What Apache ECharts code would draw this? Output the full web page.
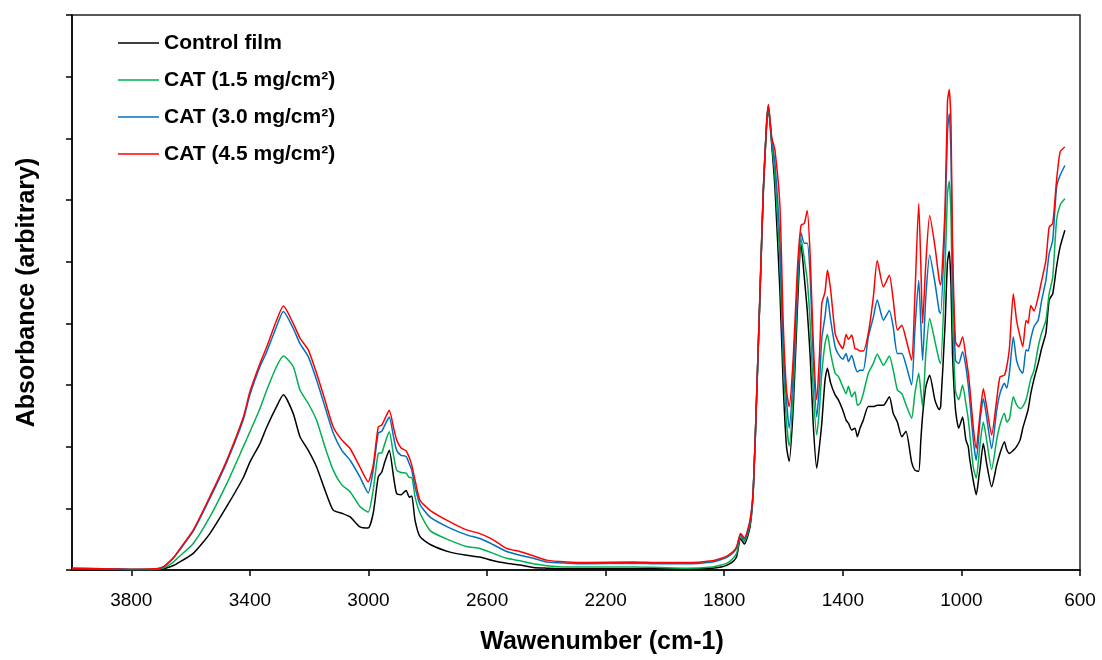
<!DOCTYPE html>
<html>
<head>
<meta charset="utf-8">
<title>FTIR spectra</title>
<script src="https://cdn.jsdelivr.net/npm/echarts@6/dist/echarts.min.js"></script>
<style>
  html, body { margin: 0; padding: 0; background: #fff; }
  #chart { width: 1102px; height: 660px; }
</style>
</head>
<body>
<div id="chart"></div>
<script>
// FTIR absorbance spectra of the control film and the CAT-loaded films
const seriesNames = ['Control film', 'CAT (1.5 mg/cm²)', 'CAT (3.0 mg/cm²)', 'CAT (4.5 mg/cm²)'];
const seriesColors = ['#000000', '#00B050', '#0070C0', '#FF0000'];
const xTickValues = [3800, 3400, 3000, 2600, 2200, 1800, 1400, 1000, 600];

// Wavenumber (cm-1) at which each absorbance value is sampled
const wavenumbers = [
  4000, 3900, 3800, 3720, 3692, 3660, 3647, 3591, 3535, 3478, 3422, 3400, 3366, 3343, 3310, 3287,
  3254, 3231, 3203, 3175, 3147, 3119, 3090, 3062, 3029, 3001, 2984, 2967, 2955, 2945, 2930, 2915,
  2905, 2890, 2873, 2862, 2854, 2843, 2826, 2790, 2725, 2669, 2624, 2579, 2534, 2489, 2444, 2399,
  2331, 2264, 2107, 2017, 1927, 1840, 1810, 1790, 1770, 1758, 1745, 1732, 1713, 1702, 1690, 1679,
  1668, 1657, 1651, 1640, 1629, 1612, 1601, 1590, 1581, 1567, 1553, 1541, 1530, 1520, 1510, 1500,
  1488, 1479, 1471, 1460, 1452, 1441, 1426, 1415, 1400, 1389, 1381, 1370, 1359, 1351, 1342, 1331,
  1314, 1297, 1284, 1263, 1243, 1230, 1216, 1201, 1187, 1168, 1157, 1144, 1137, 1131, 1120, 1107,
  1089, 1075, 1070, 1055, 1047, 1041, 1035, 1030, 1020, 1009, 996, 985, 977, 972, 960, 950,
  940, 937, 926, 915, 898, 881, 870, 855, 847, 838, 825, 814, 802, 793, 782, 775,
  766, 755, 741, 729, 715, 704, 692, 679, 667, 651
];

const controlFilm = [
  0.03, 0.02, 0.01, 0.01, 0.02, 0.07, 0.10, 0.27, 0.59, 1.03, 1.50, 1.75, 2.05, 2.32, 2.65, 2.84,
  2.54, 2.16, 1.94, 1.67, 1.30, 0.97, 0.92, 0.86, 0.70, 0.68, 0.92, 1.51, 1.59, 1.75, 1.94, 1.50,
  1.24, 1.22, 1.29, 1.18, 1.20, 0.81, 0.54, 0.41, 0.29, 0.24, 0.21, 0.15, 0.11, 0.08, 0.04, 0.03,
  0.02, 0.02, 0.02, 0.02, 0.02, 0.03, 0.05, 0.08, 0.14, 0.22, 0.51, 0.42, 0.70, 1.28, 2.90, 4.52,
  6.14, 7.22, 7.48, 6.90, 6.20, 4.50, 3.00, 2.00, 1.76, 2.65, 4.27, 5.29, 4.75, 4.21, 3.46, 2.38,
  1.65, 2.00, 2.38, 3.08, 3.27, 3.03, 2.84, 2.76, 2.59, 2.43, 2.38, 2.27, 2.30, 2.16, 2.30, 2.43,
  2.65, 2.65, 2.67, 2.67, 2.81, 2.54, 2.40, 2.16, 2.25, 1.75, 1.62, 1.60, 2.10, 2.50, 2.97, 3.16,
  2.75, 2.60, 2.65, 4.00, 5.00, 5.17, 4.60, 3.50, 2.60, 2.30, 2.48, 2.11, 2.00, 1.80, 1.45, 1.22,
  1.55, 1.65, 2.05, 1.73, 1.35, 1.70, 1.89, 2.08, 1.95, 1.89, 1.94, 2.00, 2.11, 2.30, 2.48, 2.60,
  2.86, 3.10, 3.35, 3.60, 3.84, 4.38, 4.48, 4.92, 5.24, 5.51
];

const cat15 = [
  0.03, 0.02, 0.01, 0.01, 0.03, 0.12, 0.18, 0.43, 0.86, 1.40, 2.00, 2.24, 2.62, 2.92, 3.30, 3.47,
  3.30, 2.92, 2.70, 2.43, 2.00, 1.62, 1.38, 1.27, 1.03, 0.94, 1.30, 1.89, 1.90, 2.05, 2.24, 1.85,
  1.62, 1.58, 1.57, 1.50, 1.50, 1.19, 0.92, 0.63, 0.48, 0.38, 0.35, 0.27, 0.19, 0.15, 0.10, 0.07,
  0.05, 0.05, 0.05, 0.04, 0.03, 0.05, 0.08, 0.11, 0.19, 0.27, 0.54, 0.46, 0.74, 1.30, 2.92, 4.54,
  6.17, 7.24, 7.50, 6.95, 6.40, 5.00, 3.40, 2.40, 2.01, 2.90, 4.50, 5.38, 5.05, 4.70, 4.00, 2.92,
  2.19, 2.60, 3.19, 3.67, 3.82, 3.51, 3.19, 3.14, 2.97, 2.86, 2.98, 2.81, 2.89, 2.67, 2.70, 2.86,
  3.19, 3.35, 3.50, 3.32, 3.47, 3.24, 2.92, 2.86, 2.68, 2.46, 2.86, 3.19, 2.90, 2.65, 3.51, 4.08,
  3.70, 3.40, 3.35, 4.90, 6.10, 6.31, 5.70, 4.20, 2.90, 2.76, 3.00, 2.70, 2.45, 2.22, 1.67, 1.49,
  1.90, 2.05, 2.40, 2.11, 1.63, 2.11, 2.35, 2.54, 2.40, 2.45, 2.81, 2.68, 2.62, 2.65, 2.76, 2.90,
  3.10, 3.24, 3.62, 3.85, 4.05, 4.48, 4.75, 5.67, 5.92, 6.02
];

const cat30 = [
  0.02, 0.02, 0.01, 0.01, 0.05, 0.18, 0.26, 0.63, 1.16, 1.75, 2.44, 2.84, 3.30, 3.54, 3.95, 4.19,
  3.92, 3.67, 3.46, 3.08, 2.65, 2.22, 1.94, 1.78, 1.51, 1.25, 1.62, 2.22, 2.25, 2.35, 2.48, 2.15,
  1.94, 1.86, 1.84, 1.72, 1.62, 1.35, 1.06, 0.85, 0.68, 0.57, 0.51, 0.41, 0.30, 0.24, 0.19, 0.13,
  0.11, 0.10, 0.11, 0.10, 0.10, 0.13, 0.17, 0.21, 0.28, 0.36, 0.57, 0.49, 0.78, 1.31, 2.93, 4.55,
  6.18, 7.25, 7.52, 7.00, 6.60, 5.30, 3.60, 2.75, 2.30, 3.20, 4.70, 5.47, 5.30, 5.30, 4.75, 3.46,
  2.48, 3.00, 3.75, 4.11, 4.43, 4.05, 3.62, 3.50, 3.42, 3.51, 3.38, 3.48, 3.30, 3.21, 3.24, 3.24,
  3.78, 4.10, 4.38, 4.05, 4.21, 3.94, 3.51, 3.51, 3.33, 3.00, 3.89, 4.70, 4.00, 3.40, 4.43, 5.11,
  4.65, 4.20, 4.16, 5.70, 7.10, 7.40, 6.70, 5.00, 3.40, 3.35, 3.54, 3.30, 3.00, 2.76, 2.11, 1.78,
  2.25, 2.43, 2.78, 2.48, 1.97, 2.59, 2.86, 3.03, 2.95, 3.20, 3.78, 3.40, 3.24, 3.19, 3.57, 3.55,
  3.75, 3.95, 4.05, 4.38, 4.70, 5.13, 5.35, 6.21, 6.40, 6.56
];

const cat45 = [
  0.02, 0.02, 0.01, 0.02, 0.05, 0.19, 0.27, 0.65, 1.19, 1.78, 2.48, 2.89, 3.35, 3.62, 4.05, 4.28,
  4.00, 3.76, 3.57, 3.19, 2.76, 2.32, 2.11, 1.97, 1.67, 1.43, 1.70, 2.32, 2.35, 2.45, 2.59, 2.30,
  2.11, 1.98, 1.93, 1.82, 1.70, 1.46, 1.13, 0.96, 0.78, 0.65, 0.59, 0.49, 0.35, 0.30, 0.23, 0.16,
  0.13, 0.12, 0.13, 0.12, 0.12, 0.15, 0.19, 0.23, 0.30, 0.38, 0.59, 0.52, 0.81, 1.32, 2.94, 4.56,
  6.19, 7.26, 7.55, 7.02, 6.81, 5.89, 4.00, 2.92, 2.65, 3.46, 4.90, 5.59, 5.62, 5.83, 5.08, 3.73,
  2.76, 3.46, 4.32, 4.51, 4.86, 4.54, 3.84, 3.70, 3.59, 3.82, 3.74, 3.81, 3.59, 3.58, 3.55, 3.55,
  3.84, 4.43, 5.02, 4.59, 4.78, 4.38, 3.89, 3.97, 3.75, 3.40, 4.43, 5.94, 4.97, 4.00, 4.97, 5.75,
  5.24, 4.70, 4.62, 5.90, 7.60, 7.79, 7.20, 5.30, 3.70, 3.62, 3.78, 3.46, 3.20, 2.97, 2.32, 1.97,
  2.40, 2.54, 2.94, 2.65, 2.19, 2.76, 3.13, 3.16, 3.30, 3.60, 4.48, 4.05, 3.78, 3.62, 4.05, 4.00,
  4.29, 4.20, 4.43, 4.70, 5.02, 5.56, 5.62, 6.32, 6.78, 6.86
];

const spectra = [controlFilm, cat15, cat30, cat45];

const chart = echarts.init(document.getElementById('chart'), null, { renderer: 'canvas' });

const axisLine = { show: true, lineStyle: { color: '#000', width: 1.5 } };
const axisTick = { show: true, inside: false, length: 6, lineStyle: { color: '#000', width: 1.5 } };
const fontFamily = 'Liberation Sans, Arial, sans-serif';

chart.setOption({
  animation: false,
  backgroundColor: '#ffffff',
  grid: {
    left: 72, right: 22, top: 15, bottom: 90,
    outerBoundsMode: 'none',
    containLabel: false,
    show: true, borderColor: '#222', borderWidth: 1.5, backgroundColor: 'transparent'
  },
  legend: {
    orient: 'vertical',
    left: 113,
    top: 27,
    icon: 'rect',
    itemWidth: 41,
    itemHeight: 1.5,
    itemGap: 15,
    data: seriesNames,
    textStyle: {
      fontFamily: fontFamily,
      fontWeight: 'bold',
      fontSize: 21,
      lineHeight: 22,
      color: '#000'
    }
  },
  xAxis: {
    type: 'value',
    inverse: true,
    min: 600,
    max: 4000,
    name: 'Wawenumber (cm-1)',
    nameLocation: 'middle',
    nameGap: 60,
    nameTextStyle: {
      fontFamily: fontFamily,
      fontWeight: 'bold',
      fontSize: 25,
      color: '#000',
      padding: [0, 0, 0, 52]
    },
    axisLine: axisLine,
    axisTick: Object.assign({ customValues: xTickValues }, axisTick),
    axisLabel: {
      customValues: xTickValues,
      margin: 21,
      formatter: (v) => String(v),
      fontFamily: fontFamily,
      fontSize: 19,
      color: '#000'
    },
    splitLine: { show: false }
  },
  yAxis: {
    type: 'value',
    min: 0,
    max: 9,
    interval: 1,
    name: 'Absorbance (arbitrary)',
    nameLocation: 'middle',
    nameGap: 32,
    nameTextStyle: {
      fontFamily: fontFamily,
      fontWeight: 'bold',
      fontSize: 25,
      color: '#000'
    },
    axisLine: axisLine,
    axisTick: axisTick,
    axisLabel: { show: false },
    splitLine: { show: false }
  },
  series: seriesNames.map((name, i) => ({
    name: name,
    type: 'line',
    data: wavenumbers.map((wn, j) => [wn, spectra[i][j]]),
    showSymbol: false,
    symbol: 'none',
    smooth: 0.2,
    color: seriesColors[i],
    lineStyle: { color: seriesColors[i], width: 1.5 },
    z: 2 + i
  }))
});
</script>
</body>
</html>
